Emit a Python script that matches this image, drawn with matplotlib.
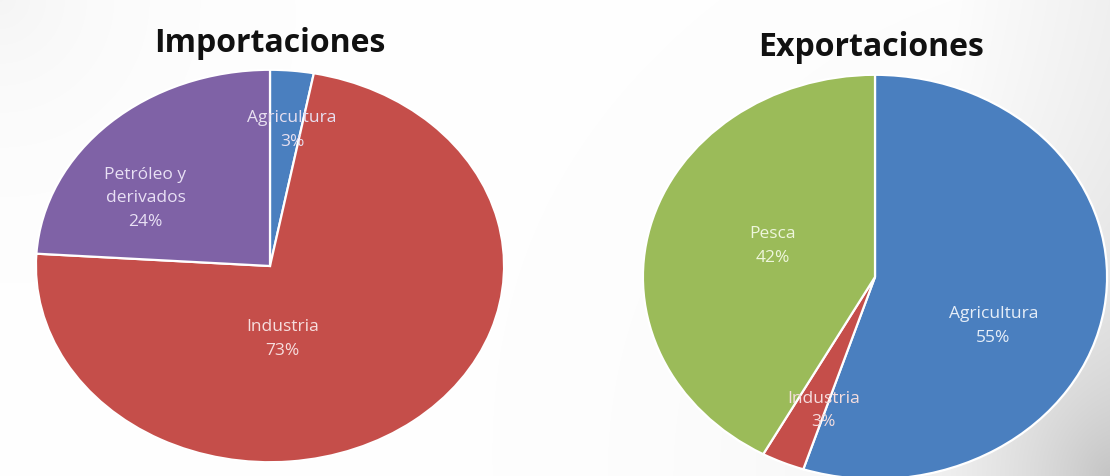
import numpy as np
import matplotlib
matplotlib.use("Agg")
import matplotlib.pyplot as plt

# ── datos ──────────────────────────────────────────────────────────────
imp_labels = ["Agricultura", "Industria", "Petróleo y\nderivados"]
imp_values = [3, 73, 24]
exp_labels = ["Agricultura", "Industria", "Pesca"]
exp_values = [55, 3, 42]

# ── estilo ─────────────────────────────────────────────────────────────
BLUE, RED, PURPLE, GREEN = "#4a7fbf", "#c54e4a", "#7f62a6", "#9bbb59"
imp_colors = [BLUE, RED, PURPLE]
exp_colors = [BLUE, RED, GREEN]
# posiciones de etiqueta en unidades del pastel (radio = 1)
imp_pos = [(0.094, 0.70), (0.055, -0.366), (-0.532, 0.35)]
exp_pos = [(0.51, -0.236), (-0.223, -0.655), (-0.44, 0.158)]
imp_txt = ["#e8e0f0", "#f6dede", "#e8e0f4"]
exp_txt = ["#e6eef8", "#f6dede", "#eef6dc"]

W, H = 1110, 477
fig = plt.figure(figsize=(W / 100, H / 100), dpi=100)

# fondo: blanco con un leve degradado gris a la derecha
bg = fig.add_axes([0, 0, 1, 1], zorder=-10)
yy, xx = np.mgrid[0:H, 0:W]
d = np.hypot(W - xx, H - yy)
g = 1 - 0.18 * np.exp(-d / 160) - 0.05 * np.clip((xx - 950) / 160, 0, 1)
g -= 0.04 * np.exp(-np.hypot(xx, yy) / 120)
bg.imshow(np.dstack([g, g, g]), extent=(0, W, H, 0), aspect="auto")
bg.axis("off")


def pie_axes(cx, cy, rx, ry):
    return fig.add_axes([(cx - rx) / W, (H - cy - ry) / H, 2 * rx / W, 2 * ry / H])


def draw_pie(ax, values, labels, colors, pos, txtcols):
    ax.pie(values, colors=colors, startangle=90, counterclock=False,
           wedgeprops=dict(edgecolor="white", linewidth=1.6))
    ax.set_aspect("auto")
    ax.set_xlim(-1.004, 1.004)
    ax.set_ylim(-1.004, 1.004)
    ax.axis("off")
    for lab, v, (x, y), c in zip(labels, values, pos, txtcols):
        ax.text(x, y, f"{lab}\n{v}%", ha="center", va="center", color=c,
                fontsize=12.5, family="Open Sans", linespacing=1.65)


ax1 = pie_axes(270, 267, 235, 197)
draw_pie(ax1, imp_values, imp_labels, imp_colors, imp_pos, imp_txt)
ax2 = pie_axes(875, 278, 233, 203)
draw_pie(ax2, exp_values, exp_labels, exp_colors, exp_pos, exp_txt)

fig.text(270 / W, 1 - 44 / H, "Importaciones", ha="center", va="center",
         fontsize=23, fontweight="bold", family="Open Sans", color="#111111")
fig.text(871 / W, 1 - 47 / H, "Exportaciones", ha="center", va="center",
         fontsize=23, fontweight="bold", family="Open Sans", color="#111111")

fig.savefig("out.png", dpi=100)
